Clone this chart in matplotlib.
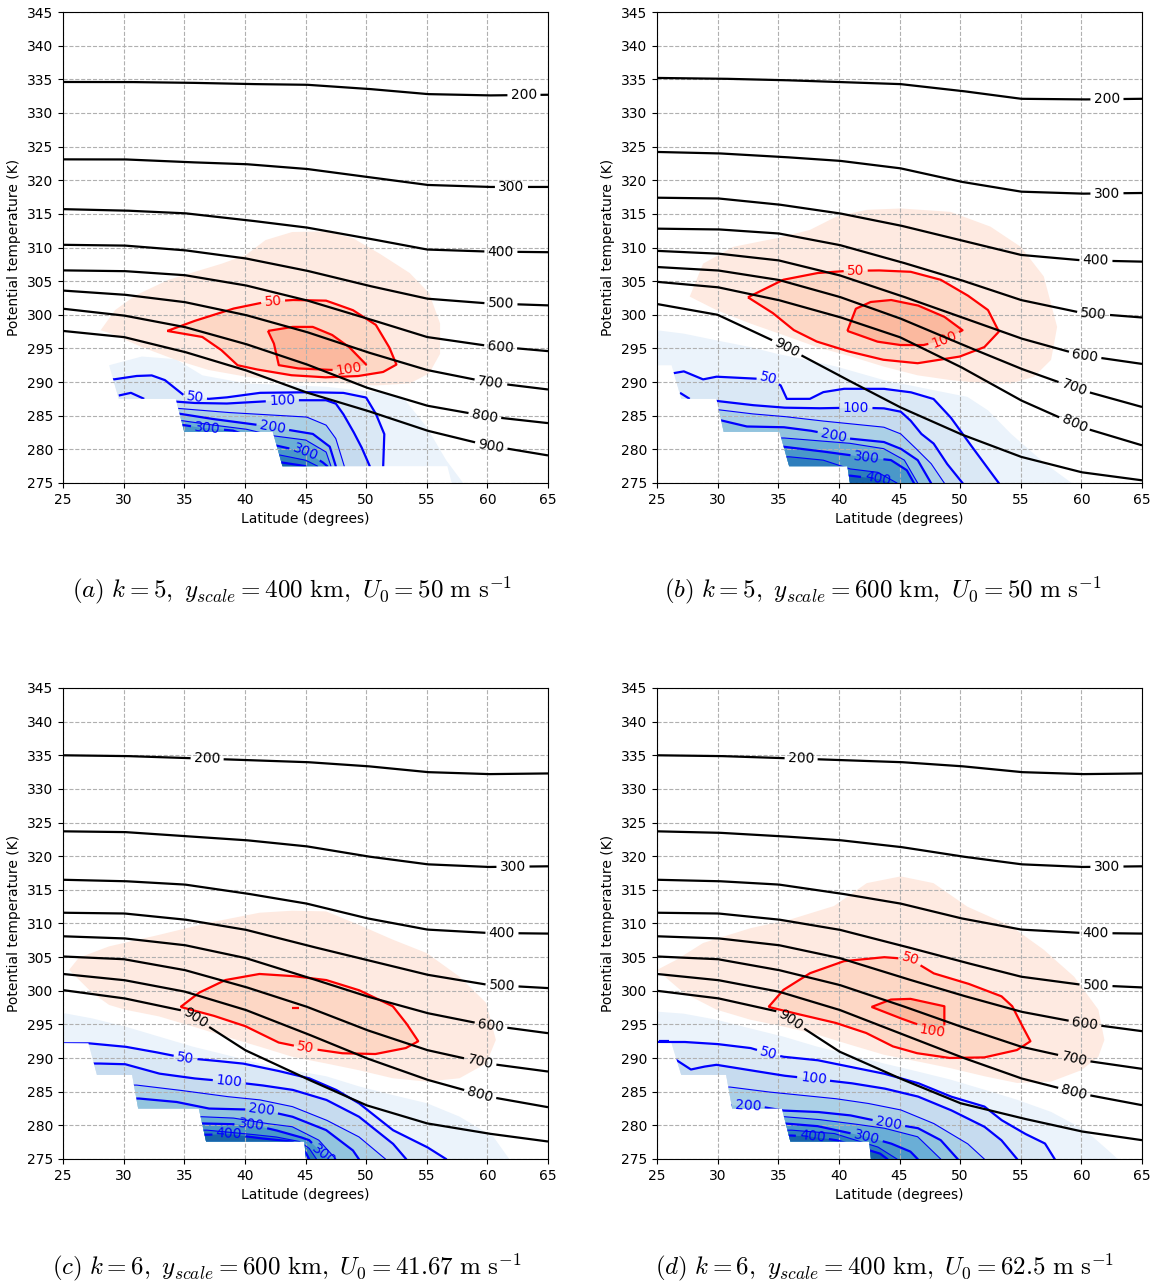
import numpy as np
import matplotlib
matplotlib.use('Agg')
import matplotlib.pyplot as plt
from matplotlib.patches import Polygon

plt.rcParams['mathtext.fontset'] = 'cm'

# latitudes where the isobars were read
lat = [25, 30, 35, 40, 45, 50, 55, 60, 65]

# potential temperature (K) of pressure surfaces (hPa), one dict per panel
a_theta = {
    200: [334.6, 334.6, 334.5, 334.3, 334.2, 333.6, 332.8, 332.6, 332.7],
    300: [323.1, 323.1, 322.7, 322.4, 321.7, 320.5, 319.3, 319.0, 319.0],
    400: [315.7, 315.5, 315.1, 314.1, 313.0, 311.4, 309.7, 309.4, 309.3],
    500: [310.4, 310.3, 309.6, 308.4, 306.6, 304.4, 302.4, 301.7, 301.4],
    600: [306.6, 306.5, 305.9, 304.4, 302.2, 299.5, 296.7, 295.4, 294.6],
    700: [303.6, 303.0, 301.9, 300.0, 297.5, 294.5, 291.8, 290.0, 288.9],
    800: [300.9, 299.9, 298.2, 295.7, 292.7, 289.2, 286.5, 284.9, 283.9],
    900: [297.6, 296.7, 294.5, 291.8, 288.5, 285.8, 282.8, 280.6, 279.1],
}
b_theta = {
    200: [335.2, 335.1, 334.9, 334.6, 334.3, 333.3, 332.1, 332.0, 332.1],
    300: [324.2, 324.0, 323.5, 322.9, 321.8, 319.8, 318.3, 318.0, 318.1],
    400: [317.4, 317.3, 316.4, 315.1, 313.3, 311.1, 308.9, 308.1, 307.9],
    500: [312.8, 312.7, 312.1, 310.4, 307.9, 305.2, 302.2, 300.3, 299.6],
    600: [309.5, 309.1, 308.1, 305.9, 302.9, 299.7, 296.5, 294.0, 292.7],
    700: [307.1, 306.6, 305.2, 302.7, 299.5, 295.7, 292.0, 288.8, 286.3],
    800: [304.9, 304.1, 302.2, 299.7, 296.7, 292.3, 287.3, 283.3, 280.6],
    900: [301.6, 300.0, 295.8, 291.0, 286.3, 282.3, 278.9, 276.6, 275.4],
}
c_theta = {
    200: [335.0, 334.9, 334.6, 334.3, 334.0, 333.4, 332.5, 332.2, 332.3],
    300: [323.7, 323.6, 323.0, 322.4, 321.5, 320.0, 318.8, 318.4, 318.5],
    400: [316.5, 316.3, 315.8, 314.5, 313.0, 310.8, 309.1, 308.6, 308.5],
    500: [311.6, 311.5, 310.6, 309.1, 306.8, 304.6, 302.4, 300.9, 300.4],
    600: [308.1, 307.8, 306.8, 304.9, 302.1, 299.2, 296.7, 294.9, 293.7],
    700: [305.1, 304.7, 303.1, 300.6, 297.7, 294.2, 291.2, 289.2, 288.0],
    800: [302.5, 301.6, 299.9, 297.2, 293.7, 290.0, 286.8, 284.3, 282.7],
    900: [300.1, 298.9, 297.0, 291.2, 287.0, 283.0, 280.3, 278.8, 277.6],
}
d_theta = {
    200: [335.0, 334.9, 334.6, 334.3, 334.0, 333.4, 332.5, 332.2, 332.3],
    300: [323.7, 323.5, 323.0, 322.4, 321.4, 320.0, 318.8, 318.4, 318.5],
    400: [316.5, 316.3, 315.8, 314.5, 313.0, 310.8, 309.1, 308.6, 308.5],
    500: [311.6, 311.5, 310.6, 309.1, 306.8, 304.4, 302.1, 300.9, 300.5],
    600: [308.1, 307.8, 306.8, 304.9, 302.1, 299.4, 296.9, 295.2, 294.0],
    700: [305.1, 304.7, 303.1, 300.9, 297.9, 294.7, 291.7, 289.7, 288.4],
    800: [302.5, 301.6, 299.9, 297.2, 293.7, 290.2, 287.0, 284.7, 283.0],
    900: [300.0, 298.9, 296.9, 291.0, 287.0, 283.3, 281.1, 279.1, 277.8],
}
# latitude of the inline label on each isobar
a_lab = {200: 63.0, 300: 62.0, 400: 61.1, 500: 61.1, 600: 61.1, 700: 60.3, 800: 59.8, 900: 60.3}
b_lab = {200: 62.1, 300: 62.1, 400: 61.2, 500: 61.0, 600: 60.3, 700: 59.4, 800: 59.4, 900: 35.7}
c_lab = {200: 36.9, 300: 62.1, 400: 61.2, 500: 61.2, 600: 60.3, 700: 59.4, 800: 59.4, 900: 35.9}
d_lab = {200: 36.9, 300: 62.1, 400: 61.2, 500: 61.2, 600: 60.3, 700: 59.4, 800: 59.4, 900: 36.0}

# red region: outer shading, 50 contour, 100 contour (lat, theta)
a_red0 = ([28.1, 29.3, 31.0, 33.7, 38.1, 40.1, 41.7, 43.9, 46.7, 48.9, 51.1, 53.6, 55.2, 56.1, 56.1, 55.2, 53.6, 50.8, 48.1, 43.9, 40.1, 37.0, 34.3, 31.5, 29.0],
          [297.7, 300.7, 302.9, 305.2, 307.6, 308.9, 311.1, 312.3, 312.4, 311.4, 309.1, 306.2, 303.2, 298.7, 294.2, 291.3, 289.8, 289.5, 289.8, 290.0, 290.8, 291.8, 293.3, 295.2, 297.2])
a_red50 = ([33.6, 35.7, 39.0, 41.7, 43.9, 46.7, 48.9, 50.8, 51.9, 52.5, 51.4, 49.4, 46.7, 43.9, 41.2, 39.4, 38.1, 36.5, 33.6],
           [297.6, 299.0, 300.9, 301.9, 302.2, 302.1, 300.7, 298.5, 295.2, 292.6, 291.5, 290.9, 290.7, 291.0, 291.8, 292.5, 294.7, 296.7, 297.6])
a_red100 = ([41.9, 43.9, 45.6, 47.2, 48.6, 50.0, 48.6, 47.2, 44.5, 42.8, 42.4, 41.9],
            [297.6, 298.2, 298.2, 297.0, 295.2, 292.6, 292.0, 291.8, 292.0, 292.5, 295.7, 297.6])
a_red_labels = [(50, 42.3, 302.1), (100, 48.6, 292.0)]

b_red0 = ([27.7, 28.8, 31.3, 34.9, 37.6, 39.8, 42.3, 45.1, 49.2, 52.5, 55.0, 56.9, 58.0, 57.5, 56.1, 54.2, 52.0, 49.2, 46.5, 43.7, 41.0, 38.2, 35.4, 32.7, 29.9],
          [302.7, 307.6, 310.1, 311.4, 312.6, 314.6, 315.6, 315.8, 315.3, 313.1, 310.1, 305.7, 298.2, 293.3, 290.8, 289.8, 289.8, 290.3, 291.0, 292.3, 293.8, 295.2, 297.0, 298.7, 300.7])
b_red50 = ([32.5, 35.4, 38.2, 40.5, 43.2, 45.9, 48.4, 50.6, 52.3, 53.2, 52.0, 50.0, 46.5, 43.7, 40.9, 38.2, 36.3, 34.6, 32.5],
           [302.6, 305.2, 306.2, 306.5, 306.6, 306.4, 305.2, 302.9, 300.7, 297.5, 295.2, 293.8, 292.8, 293.3, 294.5, 296.0, 297.7, 300.2, 302.6])
b_red100 = ([40.7, 41.4, 42.6, 44.3, 46.5, 48.7, 50.2, 48.7, 47.0, 45.1, 43.2, 40.7],
            [297.6, 300.9, 301.9, 302.2, 301.4, 299.7, 297.7, 296.3, 295.5, 295.5, 296.0, 297.6])
b_red_labels = [(50, 41.4, 306.8), (100, 48.7, 296.3)]

c_red0 = ([25.5, 26.3, 28.8, 32.9, 37.0, 41.2, 43.9, 46.7, 49.4, 52.2, 55.0, 57.7, 59.9, 60.7, 59.9, 57.7, 55.0, 52.2, 49.4, 46.7, 43.9, 41.2, 38.4, 35.7, 32.9, 30.1, 28.8, 27.4],
          [303.1, 304.9, 306.6, 308.3, 310.1, 311.6, 311.9, 311.8, 309.8, 307.6, 305.6, 302.1, 298.2, 292.7, 289.2, 287.0, 286.5, 287.0, 288.2, 289.2, 290.2, 291.7, 293.2, 294.7, 296.2, 297.2, 297.9, 299.7])
c_red50 = ([34.7, 36.2, 38.4, 41.2, 43.9, 46.7, 49.4, 52.2, 53.3, 54.3, 53.3, 50.8, 48.1, 45.0, 42.8, 40.1, 37.6, 34.7],
           [297.6, 299.7, 301.6, 302.5, 302.2, 301.6, 300.1, 297.7, 295.2, 292.5, 291.5, 290.6, 290.7, 291.5, 292.3, 294.7, 296.2, 297.6])
c_red100 = None
c_red_labels = [(50, 45.0, 291.5)]
c_red_bits = [([43.9, 44.5], [297.5, 297.5])]

d_red0 = ([25.0, 26.6, 28.8, 32.7, 36.0, 39.6, 42.3, 45.1, 47.8, 50.6, 54.2, 56.9, 59.4, 61.4, 61.9, 61.4, 60.0, 57.5, 54.7, 52.0, 49.2, 46.5, 43.7, 40.9, 38.2, 35.4, 32.7, 29.9, 27.2],
          [303.1, 304.6, 307.1, 309.3, 310.6, 312.6, 316.0, 317.0, 316.0, 312.5, 309.6, 306.1, 302.1, 297.2, 292.7, 290.2, 288.2, 286.5, 286.3, 287.3, 288.5, 289.5, 290.5, 292.0, 293.5, 294.7, 295.7, 297.2, 299.7])
d_red50 = ([34.2, 35.4, 37.6, 40.4, 43.7, 45.9, 47.8, 50.6, 53.4, 54.3, 55.0, 55.8, 54.7, 52.0, 49.2, 46.5, 44.5, 42.3, 39.8, 37.4, 34.2],
           [297.6, 300.1, 302.6, 304.4, 305.0, 304.7, 302.6, 301.1, 299.2, 297.7, 295.2, 292.5, 291.2, 290.1, 290.0, 290.7, 291.7, 293.7, 295.2, 296.2, 297.6])
d_red100 = ([42.7, 44.3, 45.9, 48.7, 48.7, 47.7, 46.5, 45.4, 42.7],
            [297.6, 298.7, 298.8, 297.7, 294.2, 294.0, 295.0, 295.7, 297.6])
d_red_labels = [(50, 45.9, 304.7), (100, 47.7, 294.0)]

# lower edge of the data (stepped, below it nothing is plotted)
a_edge = ([28.4, 29.6, 34.3, 35.0, 42.3, 43.1, 56.7, 57.2], [295.0, 287.5, 287.5, 282.6, 282.6, 277.5, 277.5, 274.0])
b_edge = ([20.0, 26.2, 27.0, 29.9, 30.5, 35.1, 35.9, 40.7, 41.0], [292.5, 292.5, 287.5, 287.5, 282.6, 282.6, 277.5, 277.5, 274.0])
c_edge = ([20.0, 27.1, 27.8, 30.7, 31.2, 36.2, 36.8, 44.9, 45.1], [292.3, 292.2, 287.5, 287.5, 282.5, 282.5, 277.6, 277.6, 274.0])
d_edge = ([20.0, 26.2, 27.0, 30.7, 31.2, 35.3, 36.0, 42.5, 42.7], [292.3, 292.2, 287.5, 287.5, 282.5, 282.5, 277.6, 277.6, 274.0])

# blue contours, level -> (lat, theta); level 25 is the outer shading edge
a_blue = {
    25: ([27.0, 28.8, 31.5, 34.3, 36.5, 40.1, 46.7, 50.8, 53.0, 55.0, 56.6, 58.0, 58.3],
         [292.5, 292.5, 293.8, 293.4, 291.0, 289.8, 289.3, 288.5, 287.8, 283.3, 278.4, 275.0, 274.0]),
    50: ([28.0, 29.2, 31.0, 32.3, 33.4, 35.0, 37.0, 38.4, 41.2, 45.0, 48.1, 50.0, 50.8, 51.5, 51.4, 51.4],
         [290.4, 290.4, 290.9, 291.0, 290.3, 288.0, 287.5, 287.7, 288.4, 288.5, 288.4, 287.7, 285.3, 282.3, 277.5, 274.0]),
    100: ([33.5, 34.3, 35.7, 38.4, 41.2, 43.9, 46.7, 47.5, 48.1, 48.9, 49.6, 50.3, 50.4],
          [287.1, 287.1, 286.9, 286.8, 287.1, 287.3, 287.3, 286.8, 285.3, 282.8, 280.4, 277.5, 274.0]),
    150: ([33.5, 34.4, 38.4, 42.3, 45.1, 46.7, 47.5, 48.2, 48.4],
          [286.3, 286.1, 285.5, 285.1, 284.8, 283.6, 281.6, 277.5, 274.0]),
    200: ([33.5, 34.6, 37.0, 41.2, 43.9, 45.6, 47.0, 47.5, 47.6],
          [285.4, 285.3, 284.6, 283.6, 282.8, 282.3, 280.4, 277.5, 274.0]),
    250: ([33.5, 34.7, 37.0, 40.1, 42.4, 45.0, 46.7, 47.1, 47.2],
          [284.6, 284.3, 283.7, 283.0, 282.0, 281.4, 279.6, 277.5, 274.0]),
    300: ([33.5, 35.0, 36.4, 39.0, 42.5, 45.0, 46.4, 46.8, 47.0],
          [283.8, 283.6, 283.2, 282.8, 280.6, 279.6, 278.1, 277.5, 274.0]),
    350: ([40.0, 42.5, 45.0, 46.0, 46.2], [279.5, 279.3, 278.4, 277.5, 274.0]),
    400: ([40.0, 42.5, 44.0, 45.0, 45.1], [278.4, 278.2, 277.8, 277.5, 274.0]),
}
a_blue_labels = [(50, 35.9, 287.8), (100, 43.1, 287.2), (200, 42.3, 283.3), (300, 36.9, 283.1), (300, 45.0, 279.6)]
a_blue_bits = [([29.6, 30.6, 31.7], [288.0, 288.4, 287.5])]

b_blue = {
    25: ([20.0, 25.0, 27.2, 29.9, 32.7, 34.9, 36.8, 39.8, 43.7, 47.8, 50.6, 52.3, 54.2, 57.0, 59.2, 59.5],
         [297.7, 297.7, 297.2, 296.2, 295.2, 294.2, 293.5, 292.3, 290.3, 288.8, 287.8, 285.8, 282.3, 277.9, 275.0, 274.0]),
    50: ([20.0, 26.3, 27.2, 28.8, 29.9, 33.2, 34.2, 35.2, 35.7, 37.6, 38.7, 40.4, 43.7, 45.9, 47.8, 49.2, 50.6, 52.0, 53.2, 53.5],
         [291.3, 291.3, 291.6, 290.4, 290.8, 290.5, 290.6, 289.5, 287.5, 287.5, 288.5, 289.0, 289.0, 288.5, 287.5, 284.8, 281.3, 277.9, 275.0, 274.0]),
    100: ([29.0, 29.9, 32.7, 35.4, 38.2, 41.4, 43.7, 45.1, 45.9, 46.8, 47.8, 48.9, 50.2, 50.5],
          [287.2, 287.2, 286.6, 286.2, 286.1, 286.2, 286.1, 285.6, 284.3, 282.3, 280.9, 277.9, 275.0, 274.0]),
    150: ([29.0, 30.0, 32.7, 35.4, 38.2, 40.9, 43.7, 45.1, 46.2, 47.6, 48.7, 49.0],
          [285.9, 285.9, 285.3, 284.9, 284.3, 283.8, 283.3, 282.3, 280.4, 277.9, 275.0, 274.0]),
    200: ([29.0, 30.3, 32.4, 35.4, 37.6, 39.6, 40.9, 43.7, 45.1, 46.5, 47.6, 47.8],
          [284.3, 284.3, 283.4, 283.3, 282.8, 282.1, 281.6, 281.1, 280.1, 278.4, 275.0, 274.0]),
    250: ([34.0, 35.4, 38.2, 40.9, 43.7, 45.4, 46.5, 46.7],
          [281.7, 281.7, 281.3, 280.9, 280.1, 278.4, 275.0, 274.0]),
    300: ([34.0, 35.4, 38.2, 42.3, 44.3, 45.6, 46.2, 46.4],
          [280.4, 280.4, 279.8, 278.8, 278.4, 276.9, 275.0, 274.0]),
    350: ([34.0, 35.9, 38.7, 40.9, 43.2, 44.8, 45.0],
          [278.9, 278.9, 278.4, 277.1, 276.6, 275.0, 274.0]),
    400: ([39.0, 40.9, 43.2, 44.3, 44.5], [276.1, 276.1, 275.6, 275.0, 274.0]),
}
b_blue_labels = [(50, 34.2, 290.6), (100, 41.4, 286.2), (200, 39.6, 282.1), (300, 42.3, 278.8), (400, 43.2, 275.6)]
b_blue_bits = [([26.9, 27.7], [288.4, 287.5])]

c_blue = {
    25: ([20.0, 25.0, 27.4, 30.1, 32.9, 35.7, 38.4, 41.2, 43.9, 46.7, 49.4, 52.2, 55.0, 57.7, 60.5, 61.8, 62.0],
         [296.7, 296.7, 295.9, 294.7, 293.2, 291.7, 290.5, 289.2, 288.2, 287.3, 285.8, 284.5, 283.3, 281.3, 278.3, 275.0, 274.0]),
    50: ([20.0, 27.1, 30.1, 32.3, 35.1, 37.0, 39.8, 42.5, 45.3, 47.5, 49.4, 50.8, 52.2, 55.0, 56.6, 56.8],
         [292.2, 292.2, 291.7, 291.0, 290.0, 289.7, 289.2, 288.2, 287.0, 285.3, 283.3, 281.3, 279.3, 276.8, 275.0, 274.0]),
    100: ([26.0, 27.7, 30.1, 32.9, 35.7, 38.7, 41.2, 43.9, 46.7, 49.4, 50.8, 52.2, 53.3, 53.5],
          [289.2, 289.2, 289.1, 287.7, 287.0, 286.5, 286.0, 285.3, 283.8, 281.3, 279.3, 277.3, 275.0, 274.0]),
    150: ([30.0, 31.0, 34.3, 38.4, 41.2, 43.9, 46.7, 49.4, 51.6, 51.8],
          [286.0, 286.0, 285.3, 284.3, 283.8, 282.8, 280.8, 278.3, 275.0, 274.0]),
    200: ([30.0, 31.2, 34.3, 37.0, 41.4, 43.9, 46.7, 48.9, 49.4, 49.6],
          [284.0, 284.0, 283.5, 282.5, 282.3, 281.3, 279.3, 276.3, 275.0, 274.0]),
    250: ([35.0, 36.2, 39.0, 41.7, 43.9, 46.1, 47.5, 47.7],
          [281.3, 281.3, 281.1, 280.3, 279.8, 277.8, 275.0, 274.0]),
    300: ([35.0, 36.2, 40.5, 42.5, 44.5, 45.3, 46.4, 47.0, 47.2],
          [280.3, 280.3, 280.1, 279.3, 278.3, 277.8, 275.8, 275.0, 274.0]),
    350: ([35.0, 36.8, 39.8, 42.5, 44.5, 45.3, 45.9, 46.0],
          [279.3, 279.3, 278.8, 278.3, 277.6, 276.6, 275.0, 274.0]),
    400: ([35.0, 36.8, 38.7, 41.2, 43.9, 45.0, 45.3, 45.4],
          [278.6, 278.6, 278.7, 278.1, 277.6, 276.0, 275.0, 274.0]),
}
c_blue_labels = [(50, 35.1, 290.0), (100, 38.7, 286.5), (200, 41.4, 282.3), (300, 40.5, 280.1), (400, 38.7, 278.7), (300, 46.6, 275.9)]
c_blue_bits = []

d_blue = {
    25: ([20.0, 25.0, 27.2, 29.9, 32.7, 35.4, 38.2, 40.9, 43.7, 46.5, 49.2, 52.0, 54.7, 57.5, 60.3, 62.2, 63.0, 63.2],
         [296.9, 296.9, 296.6, 295.7, 294.4, 293.2, 291.7, 290.5, 289.2, 288.0, 286.8, 285.3, 283.8, 282.0, 279.3, 276.3, 275.0, 274.0]),
    50: ([20.0, 27.2, 29.9, 32.7, 34.2, 35.4, 38.2, 40.9, 43.7, 46.5, 49.2, 52.0, 53.4, 55.3, 57.0, 57.8, 58.0],
         [292.4, 292.4, 292.1, 291.5, 290.7, 290.2, 289.7, 288.7, 287.7, 286.3, 284.3, 282.8, 280.8, 278.8, 277.3, 275.0, 274.0]),
    100: ([26.0, 26.6, 27.8, 28.8, 29.9, 32.7, 35.4, 37.9, 40.9, 43.7, 46.5, 49.2, 52.0, 53.4, 54.7, 54.9],
          [289.7, 289.7, 288.3, 288.7, 289.0, 288.2, 287.4, 286.9, 286.3, 285.5, 284.3, 282.3, 279.8, 277.8, 275.0, 274.0]),
    150: ([30.0, 31.0, 34.0, 36.8, 39.6, 42.3, 45.1, 47.8, 50.6, 52.0, 52.2],
          [285.7, 285.7, 285.0, 284.5, 284.0, 283.3, 282.3, 280.3, 277.3, 275.0, 274.0]),
    200: ([30.0, 31.0, 33.8, 35.4, 38.2, 40.9, 44.1, 46.5, 48.4, 49.8, 50.0],
          [283.0, 283.0, 282.7, 282.2, 282.0, 281.5, 280.3, 279.6, 277.8, 275.0, 274.0]),
    250: ([34.0, 35.4, 38.2, 40.9, 43.7, 46.5, 48.4, 48.6],
          [281.3, 281.3, 280.9, 280.3, 279.6, 278.3, 275.0, 274.0]),
    300: ([34.0, 35.4, 38.2, 42.3, 44.3, 45.9, 46.5, 46.7],
          [280.3, 280.3, 279.9, 278.3, 277.3, 276.1, 275.0, 274.0]),
    350: ([34.0, 36.0, 39.6, 43.2, 44.8, 45.0],
          [279.3, 279.3, 278.8, 276.8, 275.0, 274.0]),
    400: ([34.0, 36.0, 37.8, 39.8, 43.4, 44.0, 44.2],
          [278.5, 278.5, 278.3, 277.8, 275.8, 275.0, 274.0]),
}
d_blue_labels = [(50, 34.2, 290.7), (100, 37.9, 286.9), (200, 32.5, 282.8), (200, 44.1, 280.3), (300, 42.3, 278.3), (400, 37.8, 278.3)]
d_blue_bits = [([25.2, 26.0], [292.6, 292.6])]

captions = [r'$(a)\ k=5,\ y_{scale}=400\ \mathrm{km},\ U_0=50\ \mathrm{m\ s^{-1}}$',
            r'$(b)\ k=5,\ y_{scale}=600\ \mathrm{km},\ U_0=50\ \mathrm{m\ s^{-1}}$',
            r'$(c)\ k=6,\ y_{scale}=600\ \mathrm{km},\ U_0=41.67\ \mathrm{m\ s^{-1}}$',
            r'$(d)\ k=6,\ y_{scale}=400\ \mathrm{km},\ U_0=62.5\ \mathrm{m\ s^{-1}}$']

red_cols = ['#feeae1', '#fdd7c5', '#fbb99f']
blue_cols = {25: '#ebf3fb', 50: '#dae8f5', 100: '#c6dbef', 150: '#abd0e6', 200: '#92c4de',
             250: '#6aaed6', 300: '#4a98c9', 350: '#2e7ebc', 400: '#1764ab'}


def draw_line(ax, xs, ys, color, lw, labels=(), fs=10, clip=None, zorder=3):
    pts = ax.transData.transform(np.column_stack([xs, ys]))
    s = np.r_[0, np.cumsum(np.hypot(*np.diff(pts, axis=0).T))]
    sd = np.linspace(0, s[-1], max(int(s[-1] * 2), 4))
    dense = np.column_stack([np.interp(sd, s, pts[:, 0]), np.interp(sd, s, pts[:, 1])])
    keep = np.ones(len(sd), bool)
    marks = []
    for txt, lx, ly in labels:
        p = ax.transData.transform((lx, ly))
        i = np.argmin(np.hypot(*(dense - p).T))
        half = 0.5 * len(txt) * fs * 0.64 * 100 / 72 + 3
        keep &= np.abs(sd - sd[i]) > half
        j0, j1 = max(i - 6, 0), min(i + 6, len(sd) - 1)
        ang = np.degrees(np.arctan2(dense[j1, 1] - dense[j0, 1], dense[j1, 0] - dense[j0, 0]))
        if ang > 90:
            ang -= 180
        if ang < -90:
            ang += 180
        marks.append((txt, ax.transData.inverted().transform(dense[i]), ang))
    dense[~keep] = np.nan
    xy = ax.transData.inverted().transform(dense)
    ln, = ax.plot(xy[:, 0], xy[:, 1], color=color, lw=lw, zorder=zorder, solid_capstyle='butt')
    if clip is not None:
        ln.set_clip_path(clip)
    for txt, pos, ang in marks:
        ax.text(pos[0], pos[1], txt, color=color, fontsize=fs, rotation=ang,
                rotation_mode='anchor', ha='center', va='center', zorder=zorder + 1, clip_on=True)


def panel(ax, theta, lab, red0, red50, red100, red_labels, edge, blue, blue_labels, bits, red_bits):
    ax.set_xlim(25, 65)
    ax.set_ylim(275, 345)
    ax.set_xticks(range(25, 66, 5))
    ax.set_yticks(range(275, 346, 5))
    ax.set_xlabel('Latitude (degrees)')
    ax.set_ylabel('Potential temperature (K)')
    ax.set_axisbelow(False)
    ax.grid(True, ls='--', color='#b0b0b0', lw=0.8)
    for sp in ax.spines.values():
        sp.set_zorder(7)

    # blue shading, clipped to the stepped lower edge
    ex, ey = edge
    clip = Polygon(np.column_stack([ex + [70, 70, 20, 20], ey + [270, 350, 350, ey[0]]]),
                   closed=True, transform=ax.transData)
    for lev, (bx, by) in blue.items():
        f = ax.fill(bx + [bx[-1], bx[0]], by + [270, 270], color=blue_cols[lev], lw=0, zorder=1)[0]
        f.set_clip_path(clip)
    for lev, (bx, by) in blue.items():
        if lev == 25:
            continue
        lw = 0.8 if lev % 100 == 50 and lev != 50 else 1.6
        labs = [(str(v), x, y) for v, x, y in blue_labels if v == lev]
        draw_line(ax, bx, by, 'blue', lw, labs, clip=clip)
    for bx, by in bits:
        draw_line(ax, bx, by, 'blue', 1.6, clip=clip)

    # red shading and contours
    ax.fill(red0[0], red0[1], color=red_cols[0], lw=0, zorder=1.1)
    ax.fill(red50[0], red50[1], color=red_cols[1], lw=0, zorder=1.2)
    draw_line(ax, red50[0], red50[1], 'red', 1.6, [(str(v), x, y) for v, x, y in red_labels if v == 50])
    if red100 is not None:
        ax.fill(red100[0], red100[1], color=red_cols[2], lw=0, zorder=1.3)
        draw_line(ax, red100[0], red100[1], 'red', 1.6, [(str(v), x, y) for v, x, y in red_labels if v == 100])
    for rx, ry in red_bits:
        draw_line(ax, rx, ry, 'red', 1.6)

    # pressure surfaces
    for p, th in theta.items():
        draw_line(ax, lat, th, 'black', 1.6, [(str(p), lab[p], np.interp(lab[p], lat, th))], zorder=5)


fig = plt.figure(figsize=(11.58, 12.86), dpi=100)
W, H = 1158, 1286
pos = [(63, 12), (657, 12), (63, 688), (657, 688)]
cap_pos = [(72, 590), (664, 590), (52, 1267), (655, 1267)]
data = [(a_theta, a_lab, a_red0, a_red50, a_red100, a_red_labels, a_edge, a_blue, a_blue_labels, a_blue_bits, []),
        (b_theta, b_lab, b_red0, b_red50, b_red100, b_red_labels, b_edge, b_blue, b_blue_labels, b_blue_bits, []),
        (c_theta, c_lab, c_red0, c_red50, c_red100, c_red_labels, c_edge, c_blue, c_blue_labels, c_blue_bits, c_red_bits),
        (d_theta, d_lab, d_red0, d_red50, d_red100, d_red_labels, d_edge, d_blue, d_blue_labels, d_blue_bits, [])]

for k in range(4):
    x0, y0 = pos[k]
    ax = fig.add_axes([x0 / W, 1 - (y0 + 471) / H, 485 / W, 471 / H])
    panel(ax, *data[k])
    fig.text(cap_pos[k][0] / W, 1 - cap_pos[k][1] / H, captions[k], fontsize=18, ha='left', va='center')

fig.savefig('out.png', dpi=100)
